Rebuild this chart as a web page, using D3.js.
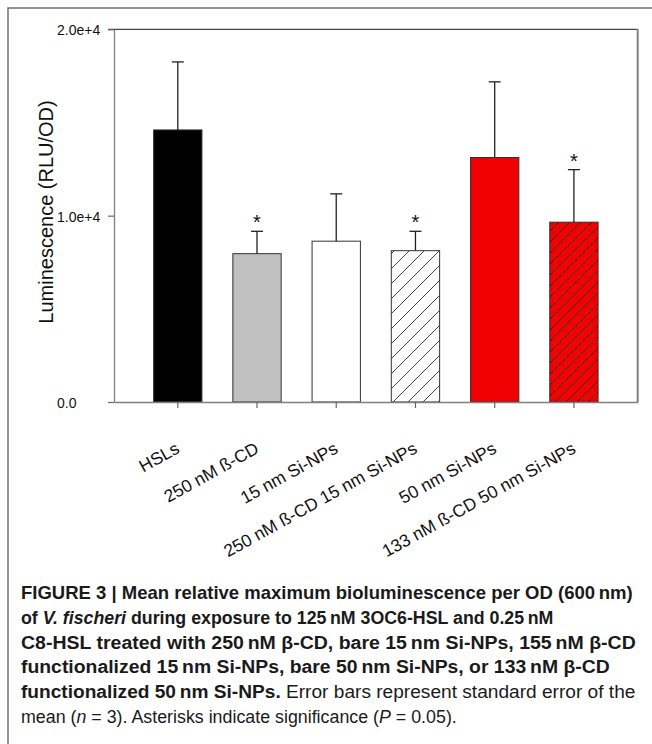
<!DOCTYPE html>
<html>
<head>
<meta charset="utf-8">
<script src="https://cdn.jsdelivr.net/npm/d3@7"></script>
<style>
html,body{margin:0;padding:0;background:#fff;}
svg{display:block;}
</style>
</head>
<body>
<svg id="chart" width="652" height="744"></svg>
<script>
// ---- data ----
const categories = ["HSLs", "250 nM ß-CD", "15 nm Si-NPs", "250 nM ß-CD 15 nm Si-NPs", "50 nm Si-NPs", "133 nM ß-CD 50 nm Si-NPs"];
const means = [14600, 7960, 8630, 8120, 13120, 9650];
const stdErrors = [3650, 1200, 2540, 1040, 4060, 2820];
const significant = [false, true, false, true, false, true];
const yTickValues = [0, 10000, 20000];
const yTickLabels = ["0.0", "1.0e+4", "2.0e+4"];
const yTitle = "Luminescence (RLU/OD)";
const barStyles = ["black", "gray", "white", "whiteHatch", "red", "redHatch"];

const captionLines = [
  [["FIGURE 3 | Mean relative maximum bioluminescence per OD (600\u2009nm)", "b"]],
  [["of ", "b"], ["V. fischeri", "bi"], [" during exposure to 125\u2009nM 3OC6-HSL and 0.25\u2009nM", "b"]],
  [["C8-HSL treated with 250\u2009nM \u03b2-CD, bare 15\u2009nm Si-NPs, 155\u2009nM \u03b2-CD", "b"]],
  [["functionalized 15\u2009nm Si-NPs, bare 50\u2009nm Si-NPs, or 133\u2009nM \u03b2-CD", "b"]],
  [["functionalized 50\u2009nm Si-NPs.", "b"], [" Error bars represent standard error of the", "n"]],
  [["mean (", "n"], ["n", "i"], [" = 3). Asterisks indicate significance (", "n"], ["P", "i"], [" = 0.05).", "n"]]
];
const captionWidths = [612, 533, 615, 589, 615, 436];

// ---- layout ----
const svg = d3.select("#chart");
const plotL = 114, plotR = 637.7, plotT = 29.3, plotB = 402;

svg.append("rect").attr("x", 0).attr("y", 0).attr("width", 652).attr("height", 744).attr("fill", "#fff");
// outer figure frame
svg.append("rect").attr("x", 8).attr("y", 8).attr("width", 700).attr("height", 800)
  .attr("fill", "none").attr("stroke", "#666").attr("stroke-width", 1.4);

const x = d3.scaleBand().domain(categories).range([plotL, plotR]).paddingInner(0.39).paddingOuter(0.5);
const y = d3.scaleLinear().domain([0, 20000]).range([plotB, plotT]);

// patterns
const defs = svg.append("defs");
function hatch(id, size, bg) {
  const p = defs.append("pattern").attr("id", id).attr("patternUnits", "userSpaceOnUse")
    .attr("width", size).attr("height", size);
  p.append("rect").attr("width", size).attr("height", size).attr("fill", bg);
  p.append("path").attr("d", `M0,${size} L${size},0 M${-size/2},${size/2} L${size/2},${-size/2} M${size/2},${size*1.5} L${size*1.5},${size/2}`)
    .attr("stroke", "#111").attr("stroke-width", 0.8);
}
hatch("hw", 15, "#fff");
hatch("hr", 11, "#f00000");
const fillFor = {black: "#000", gray: "#c0c0c0", white: "#fff", whiteHatch: "url(#hw)", red: "#f00000", redHatch: "url(#hr)"};

// bars
const data = categories.map((c, i) => ({c, m: means[i], e: stdErrors[i], s: significant[i], st: barStyles[i]}));
svg.append("g").selectAll("rect").data(data).join("rect")
  .attr("x", d => x(d.c)).attr("width", x.bandwidth())
  .attr("y", d => y(d.m)).attr("height", d => y(0) - y(d.m))
  .attr("fill", d => fillFor[d.st]).attr("stroke", "#333").attr("stroke-width", 1);

// error bars
const eg = svg.append("g").attr("stroke", "#222").attr("stroke-width", 1.3);
data.forEach(d => {
  const cx = x(d.c) + x.bandwidth() / 2;
  eg.append("line").attr("x1", cx).attr("x2", cx).attr("y1", y(d.m)).attr("y2", y(d.m + d.e));
  eg.append("line").attr("x1", cx - 6).attr("x2", cx + 6).attr("y1", y(d.m + d.e)).attr("y2", y(d.m + d.e));
});
// asterisks
svg.append("g").selectAll("text").data(data.filter(d => d.s)).join("text")
  .attr("x", d => x(d.c) + x.bandwidth() / 2).attr("y", d => y(d.m + d.e) - 2)
  .attr("text-anchor", "middle").attr("font-family", "Liberation Sans, Arial, sans-serif")
  .attr("font-size", 20).attr("fill", "#111").text("*");

// frame lines: top (dark) and right (gray)
svg.append("line").attr("x1", plotL - 6).attr("x2", plotR).attr("y1", plotT).attr("y2", plotT)
  .attr("stroke", "#444").attr("stroke-width", 1.2);
svg.append("line").attr("x1", plotR).attr("x2", plotR).attr("y1", plotT).attr("y2", plotB)
  .attr("stroke", "#808080").attr("stroke-width", 2);

// y axis
const ya = svg.append("g").attr("transform", `translate(${plotL},0)`)
  .call(d3.axisLeft(y).tickValues(yTickValues).tickSize(6).tickSizeOuter(0).tickFormat((d, i) => yTickLabels[i]));
ya.select(".domain").attr("stroke", "#808080").attr("stroke-width", 1.3);
ya.selectAll(".tick line").attr("stroke", "#666").attr("stroke-width", 1.2);
ya.selectAll(".tick text").attr("text-anchor", "start").attr("x", -57).attr("dy", null).attr("y", 5.5)
  .attr("font-family", "Liberation Sans, Arial, sans-serif").attr("font-size", 14).attr("fill", "#111");

// x axis
const xa = svg.append("g").attr("transform", `translate(0,${plotB})`)
  .call(d3.axisBottom(x).tickSize(6).tickSizeOuter(0).tickFormat(""));
xa.select(".domain").attr("stroke", "#808080").attr("stroke-width", 1.5);
xa.selectAll(".tick line").attr("stroke", "#666").attr("stroke-width", 1.2);

// x labels
svg.append("g").selectAll("text").data(categories).join("text")
  .attr("transform", d => `translate(${x(d) + x.bandwidth() / 2 + 3},${plotB + 50}) rotate(-29)`)
  .attr("text-anchor", "end").attr("font-family", "Liberation Sans, Arial, sans-serif")
  .attr("font-size", 17.5).attr("fill", "#111").text(d => d);

// y title
svg.append("text").attr("transform", `translate(53,212) rotate(-90)`)
  .attr("text-anchor", "middle").attr("font-family", "Liberation Sans, Arial, sans-serif")
  .attr("font-size", 20).attr("fill", "#111").text(yTitle);

// caption
const capX = 21, capY0 = 599, capDy = 24.8;
captionLines.forEach((line, i) => {
  const t = svg.append("text").attr("font-family", "Liberation Sans, Arial, sans-serif")
    .attr("font-size", 18.5).attr("fill", "#1a1a1a").attr("xml:space", "preserve");
  line.forEach(([s, st]) => {
    t.append("tspan").attr("font-weight", st.includes("b") ? "bold" : "normal")
      .attr("font-style", st.includes("i") ? "italic" : "normal").text(s);
  });
  const w = t.node().getComputedTextLength();
  const k = captionWidths[i] / w;
  t.attr("transform", `translate(${capX},${capY0 + i * capDy}) scale(${k},1)`);
});
</script>
</body>
</html>
